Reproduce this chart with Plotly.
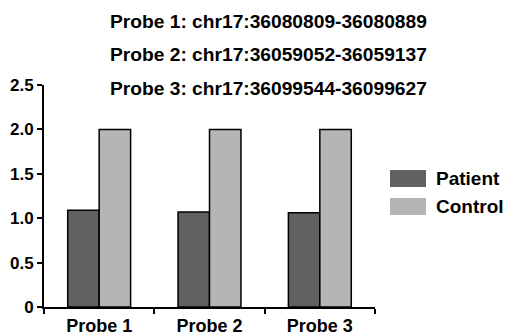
import plotly.graph_objects as go

categories = ["Probe 1", "Probe 2", "Probe 3"]
patient = [1.09, 1.07, 1.06]
control = [2.0, 2.0, 2.0]
series_names = ["Patient", "Control"]
series_colors = ["#616161", "#b5b5b5"]
title_lines = [
    "Probe 1: chr17:36080809-36080889",
    "Probe 2: chr17:36059052-36059137",
    "Probe 3: chr17:36099544-36099627",
]
ytick_vals = [0, 0.5, 1.0, 1.5, 2.0, 2.5]
ytick_text = ["0", "0.5", "1.0", "1.5", "2.0", "2.5"]

W, H = 506, 336
L, R, T, B = 44, 375, 85, 307
FONT = "Liberation Sans, Arial, sans-serif"

def px(x):
    return (x - L) / (R - L)

def py(y):
    return (B - y) / (B - T)

fig = go.Figure()
for name, vals, col in zip(series_names, [patient, control], series_colors):
    fig.add_trace(go.Bar(
        x=categories, y=vals, name=name,
        marker=dict(color=col, line=dict(color="black", width=1.5)),
        showlegend=False,
    ))

annotations = []
for i, line in enumerate(title_lines):
    annotations.append(dict(
        text="<b>%s</b>" % line, xref="paper", yref="paper",
        x=px(268), y=py([21, 54, 88][i]), xanchor="center", yanchor="middle",
        showarrow=False, font=dict(family=FONT, size=19.2, color="black"),
    ))

shapes = []
legend_y = [(170, 187), (198, 215)]
for (y0, y1), name, col in zip(legend_y, series_names, series_colors):
    shapes.append(dict(type="rect", xref="paper", yref="paper",
                       x0=px(390), x1=px(426), y0=py(y1), y1=py(y0),
                       fillcolor=col, line=dict(width=0)))
    annotations.append(dict(
        text="<b>%s</b>" % name, xref="paper", yref="paper",
        x=px(434), y=py((y0 + y1) / 2), xanchor="left", yanchor="middle",
        showarrow=False, font=dict(family=FONT, size=19, color="black"),
    ))

fig.update_layout(
    template="none",
    width=W, height=H,
    margin=dict(l=L, r=W - R, t=T, b=H - B, pad=0, autoexpand=False),
    paper_bgcolor="white", plot_bgcolor="white",
    barmode="group", bargap=0.43, bargroupgap=0,
    font=dict(family=FONT, size=17, color="black"),
    annotations=annotations, shapes=shapes,
    xaxis=dict(
        range=[-0.5, 2.5], automargin=False,
        showline=True, linecolor="black", linewidth=2,
        ticks="outside", tickson="boundaries", ticklen=5, tickwidth=2, tickcolor="black",
        ticklabelstandoff=1,
        tickfont=dict(family=FONT, size=18, color="black", weight="bold"),
        showgrid=False, zeroline=False,
    ),
    yaxis=dict(
        range=[0, 2.5], automargin=False, tickvals=ytick_vals, ticktext=ytick_text,
        showline=True, linecolor="black", linewidth=2,
        ticks="outside", ticklen=5, tickwidth=2, tickcolor="black",
        tickfont=dict(family=FONT, size=17, color="black", weight="bold"),
        showgrid=False, zeroline=False,
    ),
)

fig.write_html("out.html", config={"displayModeBar": False},
               post_script="document.body.style.margin='0px';")
